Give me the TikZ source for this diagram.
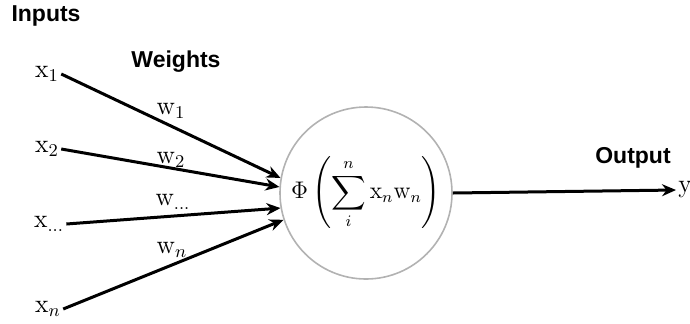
\documentclass[tikz,border=0pt]{standalone}
\usepackage{amsmath}
\usepackage{fontspec}
\setsansfont{Liberation Sans}
\usetikzlibrary{arrows.meta, positioning}
\tikzset{
  heading/.style={
    font=\fontsize{11.5}{14}\selectfont\sffamily\bfseries, inner sep=0pt
  },
  signal/.style={
    font=\fontsize{13}{15}\selectfont, inner sep=1pt
  },
  weight/.style={
    font=\fontsize{13}{15}\selectfont, inner sep=0pt
  },
  neuron/.style={
    circle, draw=gray!60, line width=0.8pt,
    minimum size=86pt, inner sep=0pt,
    font=\fontsize{12}{14}\selectfont
  },
  arrow/.style={-{Stealth[length=7pt,width=6pt]}, line width=1.5pt, draw=black}
}
\begin{document}
\begin{tikzpicture}[x=0.5pt,y=-0.5pt]
\useasboundingbox (0,0) rectangle (690,323);

% Headings
\node[heading] (inputs)  at (46,16)  {Inputs};
\node[heading] (weights) at (176,62) {Weights};
\node[heading] (output)  at (633,158) {Output};

% Inputs
\node[signal] (x1) at (47,74)  {$\mathrm{x}_1$};
\node[signal] (x2) at (47,149) {$\mathrm{x}_2$};
\node[signal] (xd) at (49,224) {$\mathrm{x}_{\ldots}$};
\node[signal] (xn) at (48,309) {$\mathrm{x}_n$};

% Neuron
\node[neuron] (cell) at (366,193)
  {$\displaystyle \Phi\left(\sum_{i}^{n}\mathrm{x}_n\mathrm{w}_n\right)$};

% Output
\node[signal, anchor=west] (y) at (676,190) {$\mathrm{y}$};

% Weights
\node[weight] (w1) at (171,111) {$\mathrm{w}_1$};
\node[weight] (w2) at (171,160) {$\mathrm{w}_2$};
\node[weight] (wd) at (173,202) {$\mathrm{w}_{\ldots}$};
\node[weight] (wn) at (172,250) {$\mathrm{w}_n$};

% Arrows
\draw[arrow] (x1.east) -- (cell.170);
\draw[arrow] (x2.east) -- (cell.176);
\draw[arrow] (xd.east) -- (cell.190);
\draw[arrow] (xn.east) -- (cell.198);
\draw[arrow] (cell.east) -- (y.west);

\end{tikzpicture}
\end{document}
